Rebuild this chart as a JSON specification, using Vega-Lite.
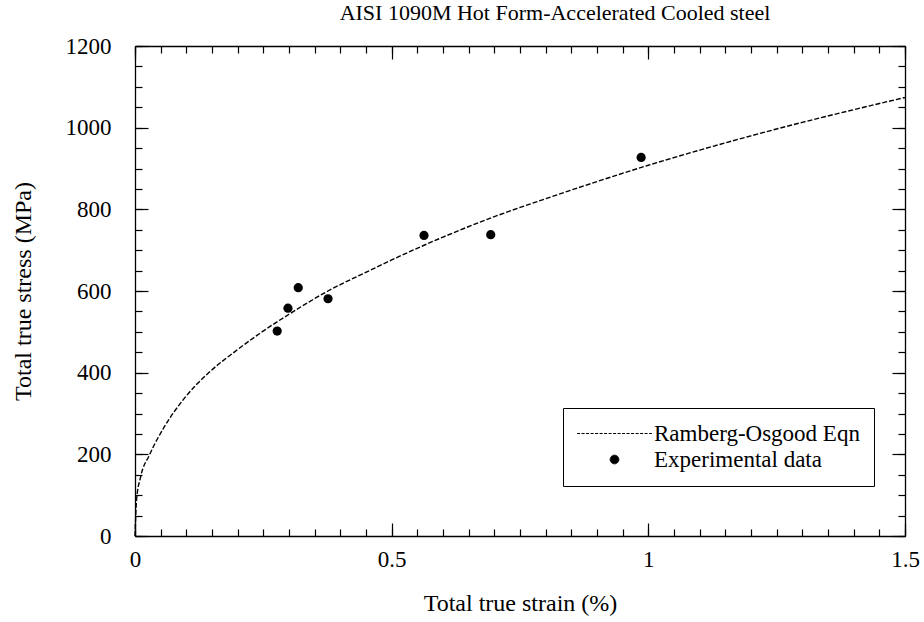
{
  "$schema": "https://vega.github.io/schema/vega-lite/v6.json",
  "autosize": "none",
  "width": 770,
  "height": 490,
  "padding": {"left": 135, "top": 46, "right": 19, "bottom": 86},
  "background": "white",
  "config": {
    "view": {"stroke": null, "fill": null},
    "font": "Liberation Serif",
    "axis": {"zindex": 1, "domainColor": "black", "tickColor": "black", "labelColor": "black", "titleColor": "black", "grid": false, "labelFont": "Liberation Serif", "titleFont": "Liberation Serif", "titleFontWeight": "normal", "labelFontSize": 23, "titleFontSize": 24, "domainWidth": 1.3, "tickWidth": 1.2}
  },
  "title": {"text": "AISI 1090M Hot Form-Accelerated Cooled steel", "font": "Liberation Serif", "fontSize": 22, "fontWeight": "normal", "color": "black", "anchor": "middle", "dx": 35, "offset": 10},
  "datasets": {
    "curve": [
      {"strain": 0, "stress": 0},
      {"strain": 0.003, "stress": 88},
      {"strain": 0.011, "stress": 145},
      {"strain": 0.028, "stress": 198},
      {"strain": 0.057, "stress": 267},
      {"strain": 0.096, "stress": 337},
      {"strain": 0.142, "stress": 398},
      {"strain": 0.194, "stress": 451},
      {"strain": 0.243, "stress": 496},
      {"strain": 0.3, "stress": 543},
      {"strain": 0.376, "stress": 600},
      {"strain": 0.457, "stress": 650},
      {"strain": 0.5, "stress": 676},
      {"strain": 0.6, "stress": 732},
      {"strain": 0.7, "stress": 782},
      {"strain": 0.8, "stress": 826},
      {"strain": 0.9, "stress": 868},
      {"strain": 1.0, "stress": 908},
      {"strain": 1.1, "stress": 945},
      {"strain": 1.2, "stress": 980},
      {"strain": 1.3, "stress": 1013},
      {"strain": 1.4, "stress": 1044},
      {"strain": 1.5, "stress": 1074}
    ],
    "experiments": [
      {"strain": 0.277, "stress": 502},
      {"strain": 0.298, "stress": 558},
      {"strain": 0.318, "stress": 608},
      {"strain": 0.376, "stress": 581},
      {"strain": 0.563, "stress": 736},
      {"strain": 0.693, "stress": 738},
      {"strain": 0.986, "stress": 927}
    ]
  },
  "layer": [
    {
      "data": {"name": "curve"},
      "mark": {"type": "line", "strokeDash": [5, 2], "strokeWidth": 1.4, "interpolate": "monotone"},
      "encoding": {
        "x": {"field": "strain", "type": "quantitative", "scale": {"domain": [0, 1.5], "nice": false, "zero": false},
          "axis": {"orient": "bottom", "title": "Total true strain (%)", "titlePadding": 20,
            "values": [0, 0.5, 1, 1.5], "format": "~g", "tickSize": -13,
            "labelPadding": 25, "labelFlush": false, "labelOverlap": false}},
        "y": {"field": "stress", "type": "quantitative", "scale": {"domain": [0, 1200], "nice": false},
          "axis": {"orient": "left", "title": "Total true stress (MPa)", "titlePadding": 30,
            "values": [0, 200, 400, 600, 800, 1000, 1200], "format": "d", "tickSize": -13,
            "labelPadding": 37, "labelFlush": false, "labelOverlap": false}},
        "color": {"datum": "Ramberg-Osgood Eqn", "type": "nominal",
          "scale": {"domain": ["Ramberg-Osgood Eqn", "Experimental data"], "range": ["black", "black"]},
          "legend": {"title": null, "orient": "none", "legendX": 428, "legendY": 362,
            "strokeColor": "black", "padding": 14, "fillColor": "white",
            "labelFont": "Liberation Serif", "labelFontSize": 23, "labelColor": "black", "labelLimit": 500,
            "symbolSize": 100, "symbolOffset": 26, "labelOffset": 28, "rowPadding": 2,
            "encode": {"symbols": {"update": {
              "shape": {"signal": "datum.value === 'Ramberg-Osgood Eqn' ? 'stroke' : 'circle'"},
              "size": {"signal": "datum.value === 'Ramberg-Osgood Eqn' ? 5600 : 75"},
              "strokeDash": {"signal": "datum.value === 'Ramberg-Osgood Eqn' ? [3, 1.5] : [1, 0]"},
              "fill": {"signal": "datum.value === 'Ramberg-Osgood Eqn' ? 'transparent' : 'black'"},
              "stroke": {"value": "black"},
              "strokeWidth": {"value": 1},
              "opacity": {"value": 1}
            }}}}}
      }
    },
    {
      "data": {"name": "experiments"},
      "mark": {"type": "point", "filled": true, "size": 85, "opacity": 1},
      "encoding": {
        "x": {"field": "strain", "type": "quantitative", "scale": {"domain": [0, 1.5], "nice": false, "zero": false},
          "axis": {"orient": "top", "title": null, "labels": false, "domain": true, "tickSize": -7,
            "values": [0,0.05,0.1,0.15,0.2,0.25,0.3,0.35,0.4,0.45,0.5,0.55,0.6,0.65,0.7,0.75,0.8,0.85,0.9,0.95,1,1.05,1.1,1.15,1.2,1.25,1.3,1.35,1.4,1.45,1.5]}},
        "y": {"field": "stress", "type": "quantitative", "scale": {"domain": [0, 1200], "nice": false},
          "axis": {"orient": "right", "title": null, "labels": false, "domain": true, "tickSize": -7,
            "values": [0,50,100,150,200,250,300,350,400,450,500,550,600,650,700,750,800,850,900,950,1000,1050,1100,1150,1200]}},
        "color": {"datum": "Experimental data", "type": "nominal"}
      }
    },
    {
      "data": {"name": "experiments"},
      "mark": {"type": "point", "opacity": 0},
      "encoding": {
        "x": {"field": "strain", "type": "quantitative", "scale": {"domain": [0, 1.5], "nice": false, "zero": false},
          "axis": {"orient": "bottom", "title": null, "labels": false, "domain": false, "tickSize": -7,
            "values": [0,0.05,0.1,0.15,0.2,0.25,0.3,0.35,0.4,0.45,0.5,0.55,0.6,0.65,0.7,0.75,0.8,0.85,0.9,0.95,1,1.05,1.1,1.15,1.2,1.25,1.3,1.35,1.4,1.45,1.5]}},
        "y": {"field": "stress", "type": "quantitative", "scale": {"domain": [0, 1200], "nice": false},
          "axis": {"orient": "left", "title": null, "labels": false, "domain": false, "tickSize": -7,
            "values": [0,50,100,150,200,250,300,350,400,450,500,550,600,650,700,750,800,850,900,950,1000,1050,1100,1150,1200]}}
      }
    },
    {
      "data": {"name": "experiments"},
      "mark": {"type": "point", "opacity": 0},
      "encoding": {
        "x": {"field": "strain", "type": "quantitative", "scale": {"domain": [0, 1.5], "nice": false, "zero": false},
          "axis": {"orient": "top", "title": null, "labels": false, "domain": false, "tickSize": -13,
            "values": [0, 0.5, 1, 1.5]}},
        "y": {"field": "stress", "type": "quantitative", "scale": {"domain": [0, 1200], "nice": false},
          "axis": {"orient": "right", "title": null, "labels": false, "domain": false, "tickSize": -13,
            "values": [0, 200, 400, 600, 800, 1000, 1200]}}
      }
    }
  ],
  "resolve": {"axis": {"x": "independent", "y": "independent"}}
}
